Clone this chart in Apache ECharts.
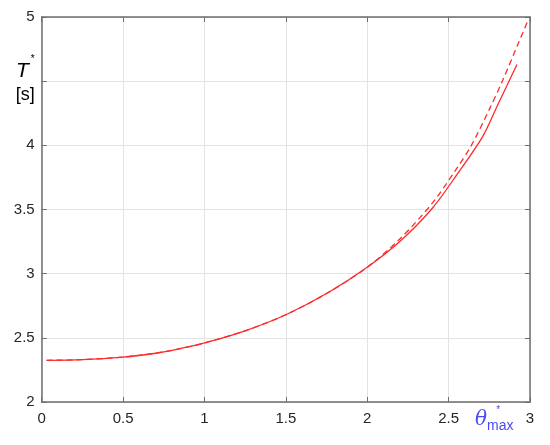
<!DOCTYPE html>
<html>
<head>
<meta charset="utf-8">
<script src="https://cdn.jsdelivr.net/npm/echarts@6/dist/echarts.min.js"></script>
<style>
html,body{margin:0;padding:0;background:#fff;}
#chart{width:550px;height:445px;}
</style>
</head>
<body>
<div id="chart"></div>
<script>
// Data
var solidTheta = [0.03, 0.25, 0.5, 0.7, 0.83, 1.0, 1.25, 1.5, 1.75, 2.0, 2.2, 2.4, 2.55, 2.71, 2.8, 2.92];
var solidT     = [2.325, 2.33, 2.35, 2.38, 2.41, 2.46, 2.555, 2.68, 2.845, 3.05, 3.25, 3.51, 3.77, 4.07, 4.31, 4.63];
var dashedTheta = [0.03, 0.25, 0.5, 0.7, 0.83, 1.0, 1.25, 1.5, 1.75, 2.0, 2.2, 2.4, 2.55, 2.64, 2.75, 2.83, 2.93, 2.99];
var dashedT     = [2.325, 2.33, 2.35, 2.38, 2.41, 2.46, 2.555, 2.68, 2.845, 3.05, 3.27, 3.55, 3.82, 4.0, 4.28, 4.5, 4.8, 4.98];
var xTicks = [0, 0.5, 1, 1.5, 2, 2.5, 3];
var yTicks = [2, 2.5, 3, 3.5, 4, 4.5, 5];
var yNameTick = 4.5;       // tick whose label is replaced by the axis name
var xNameAt = 2.78;        // position of the x-axis name

function pairs(xs, ys){ return xs.map(function(x,i){ return [x, ys[i]]; }); }

var chart = echarts.init(document.getElementById('chart'), null, {renderer:'canvas'});
var axisCol = '#6e6e6e';
var FONT = 'Liberation Sans, Arial, sans-serif';
var labelStyle = {color:'#262626', fontSize:15, fontFamily:FONT};

var option = {
  animation:false,
  grid:{left:41.7, right:20, top:17, bottom:43, containLabel:false},
  xAxis:[{
    type:'value', min:xTicks[0], max:xTicks[xTicks.length-1], interval:0.5,
    axisLine:{show:true, onZero:false, lineStyle:{color:axisCol, width:1.5}},
    axisTick:{show:true, inside:true, length:5, lineStyle:{color:axisCol}},
    splitLine:{show:true, lineStyle:{color:'#e3e3e3', width:1}},
    axisLabel:Object.assign({margin:9, formatter:function(v){return String(v);}}, labelStyle)
  },{
    type:'value', position:'top', min:xTicks[0], max:xTicks[xTicks.length-1], interval:0.5,
    axisLine:{show:true, onZero:false, lineStyle:{color:axisCol, width:1.5}},
    axisTick:{show:true, inside:true, length:5, lineStyle:{color:axisCol}},
    splitLine:{show:false}, axisLabel:{show:false}
  }],
  yAxis:[{
    type:'value', min:yTicks[0], max:yTicks[yTicks.length-1], interval:0.5,
    axisLine:{show:true, onZero:false, lineStyle:{color:axisCol, width:1.5}},
    axisTick:{show:true, inside:true, length:5, lineStyle:{color:axisCol}},
    splitLine:{show:true, lineStyle:{color:'#e3e3e3', width:1}},
    axisLabel:Object.assign({margin:7, formatter:function(v){
      if (Math.abs(v-yNameTick)<1e-9) return '{t|T}{s|*}\n{u|[s]}';
      return String(v);
    }, rich:{
      t:{fontSize:21, fontStyle:'italic', fontFamily:FONT, color:'#000', lineHeight:27, verticalAlign:'bottom'},
      s:{fontSize:10, fontFamily:FONT, color:'#000', verticalAlign:'top', lineHeight:27, padding:[0,0,10,2]},
      u:{fontSize:18, fontFamily:FONT, color:'#000', lineHeight:27}
    }}, labelStyle)
  },{
    type:'value', position:'right', min:yTicks[0], max:yTicks[yTicks.length-1], interval:0.5,
    axisLine:{show:true, onZero:false, lineStyle:{color:axisCol, width:1.5}},
    axisTick:{show:true, inside:true, length:5, lineStyle:{color:axisCol}},
    splitLine:{show:false}, axisLabel:{show:false}
  }],
  series:[{
    type:'line', xAxisIndex:0, yAxisIndex:0, data:pairs(dashedTheta, dashedT),
    showSymbol:false, smooth:0.3,
    lineStyle:{color:'#ff2a2a', width:1.3, type:[6,4]}
  },{
    type:'line', xAxisIndex:0, yAxisIndex:0, data:pairs(solidTheta, solidT),
    showSymbol:false, smooth:0.3,
    lineStyle:{color:'#ff2a2a', width:1.3, type:'solid'}
  }]
};
chart.setOption(option);

var px = chart.convertToPixel({xAxisIndex:0}, xNameAt);
var py = chart.convertToPixel({yAxisIndex:0}, yTicks[0]);
chart.setOption({graphic:[{
  type:'text', x:px, y:py+18,
  style:{
    text:'{th|θ}{sub|max}',
    rich:{
      th:{fontSize:20, fontStyle:'italic', fontFamily:'DejaVu Serif, serif', fill:'#4a4af0'},
      sub:{fontSize:14, fontFamily:FONT, fill:'#4a4af0', padding:[12,0,0,0]}
    },
    align:'center', verticalAlign:'middle'
  }
},{
  type:'text', x:px+4, y:py+8,
  style:{text:'*', fontSize:10, fontFamily:FONT, fill:'#4a4af0', align:'center', verticalAlign:'middle'}
}]});
</script>
</body>
</html>
